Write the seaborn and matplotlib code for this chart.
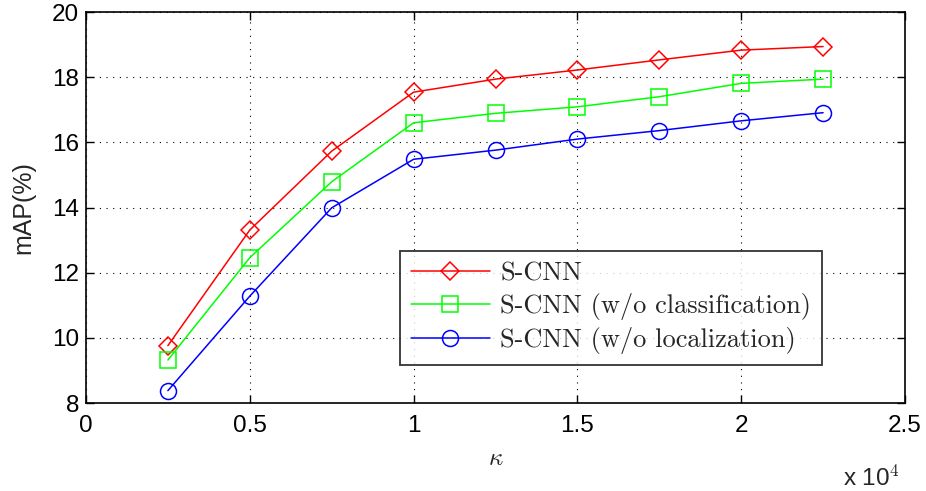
import matplotlib
matplotlib.use("Agg")
import matplotlib.pyplot as plt
import seaborn as sns
import pandas as pd

kappa = [2500, 5000, 7500, 10000, 12500, 15000, 17500, 20000, 22500]
scnn = [9.76, 13.31, 15.73, 17.54, 17.94, 18.22, 18.53, 18.83, 18.94]
scnn_no_cls = [9.32, 12.46, 14.79, 16.60, 16.89, 17.09, 17.40, 17.81, 17.94]
scnn_no_loc = [8.38, 11.28, 13.99, 15.48, 15.76, 16.10, 16.36, 16.66, 16.91]
series_names = ["S-CNN", "S-CNN (w/o classification)", "S-CNN (w/o localization)"]
xticks = [0, 5000, 10000, 15000, 20000, 25000]
xtick_labels = ["0", "0.5", "1", "1.5", "2", "2.5"]
yticks = [8, 10, 12, 14, 16, 18, 20]

sns.set_theme(style="white")
plt.rcParams['font.family'] = ['Liberation Sans', 'DejaVu Sans']
plt.rcParams['mathtext.fontset'] = 'cm'

df = pd.DataFrame({
    "kappa": kappa * 3,
    "mAP": scnn + scnn_no_cls + scnn_no_loc,
    "method": sum([[n] * len(kappa) for n in series_names], []),
})

fig = plt.figure(figsize=(9.26, 4.91), dpi=100)
ax = fig.add_axes([86 / 926, 1 - 403 / 491, (905 - 86) / 926, (403 - 12) / 491])

palette = {series_names[0]: "#ff0000", series_names[1]: "#00ff00", series_names[2]: "#0000ff"}
markers = {series_names[0]: "D", series_names[1]: "s", series_names[2]: "o"}
sizes = {series_names[0]: 9.5, series_names[1]: 11.5, series_names[2]: 11.5}

for name in series_names:
    sub = df[df["method"] == name]
    sns.lineplot(data=sub, x="kappa", y="mAP", ax=ax, color=palette[name],
                 marker=markers[name], markersize=sizes[name],
                 markerfacecolor="none", markeredgecolor=palette[name],
                 markeredgewidth=1.1, linewidth=1.1, label=name)

ax.set_xlim(0, 25000)
ax.set_ylim(8, 20)
ax.set_xticks(xticks)
ax.set_xticklabels(xtick_labels)
ax.set_yticks(yticks)
ax.tick_params(direction="in", length=6, width=1, labelsize=17.5, colors="black",
               top=True, right=True, bottom=True, left=True)
ax.tick_params(axis="x", pad=9)
ax.tick_params(axis="y", pad=5)
ax.grid(True, linestyle=(0, (1, 5)), color="black", linewidth=0.8)
for s in ax.spines.values():
    s.set_color("black")
    s.set_linewidth(1.2)

ax.set_xlabel(r"$\kappa$", fontsize=18, labelpad=6)
ax.set_ylabel("mAP(%)", fontsize=18, labelpad=12)
fig.text(843 / 926, 1 - 478 / 491, r"x 10$^4$", fontsize=17.5, ha="left", va="center")

leg = ax.legend(loc="lower left", bbox_to_anchor=((400 - 86) / 819, (403 - 365) / 391),
                frameon=True, fancybox=False, prop={"family": "cmr10", "size": 19},
                borderpad=0.4, labelspacing=0.28, handlelength=3.0, handletextpad=0.4,
                borderaxespad=0)
leg.get_frame().set_edgecolor("black")
leg.get_frame().set_linewidth(1.3)

fig.savefig("out.png", dpi=100)
